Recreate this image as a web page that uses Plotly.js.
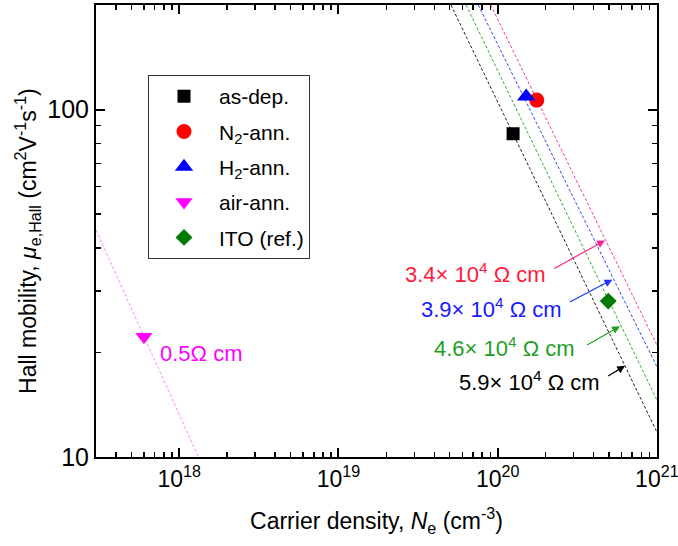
<!DOCTYPE html>
<html>
<head>
<meta charset="utf-8">
<script src="https://cdn.plot.ly/plotly-3.0.1.min.js"></script>
<style>html,body{margin:0;padding:0;background:#fff}</style>
</head>
<body>
<div id="chart" style="width:678px;height:546px"></div>
<script>
// Measured films: carrier density (cm^-3) and Hall mobility (cm^2 V^-1 s^-1)
const sampleNames    = ['as-dep.', 'N<sub>2</sub>-ann.', 'H<sub>2</sub>-ann.', 'air-ann.', 'ITO (ref.)'];
const sampleDensity  = [1.25e20, 1.76e20, 1.51e20, 6.0e17, 4.95e20];
const sampleMobility = [85.2, 106.5, 109, 22.2, 28.1];

// Axis tick values and labels
const xTickVals = [1e18, 1e19, 1e20, 1e21];
const xTickText = ['10<sup>18</sup>', '10<sup>19</sup>', '10<sup>20</sup>', '10<sup>21</sup>'];
const yTickVals = [10, 100];
const yTickText = ['10', '100'];

// Iso-resistivity guide lines: end points (density, mobility)
const rhoLabels   = ['3.4× 10<sup>4</sup> Ω cm', '3.9× 10<sup>4</sup> Ω cm',
                     '4.6× 10<sup>4</sup> Ω cm', '5.9× 10<sup>4</sup> Ω cm', '0.5Ω cm'];
const rhoDensity  = [[9.04e19, 1e21], [7.55e19, 1e21], [6.33e19, 1e21], [5.09e19, 1e21], [3e17, 1.32e18]];
const rhoMobility = [[200, 21.0], [200, 18.2], [200, 14.6], [200, 11.8], [45.0, 10]];

// Label anchors and arrow (tail -> head) positions, in density / mobility
const labelDensity  = [2.07e20, 2.61e20, 3.15e20, 4.52e20, 7.35e17];
const labelMobility = [33.9, 26.9, 20.7, 16.6, 19.9];
const arrowTailDensity  = [2.22e20, 2.78e20, 3.57e20, 4.84e20];
const arrowTailMobility = [34.7, 27.8, 20.9, 17.0];
const arrowHeadDensity  = [4.72e20, 5.25e20, 5.86e20, 6.31e20];
const arrowHeadMobility = [42.0, 32.4, 23.8, 18.3];

const markerSymbols = ['square', 'circle', 'triangle-up', 'triangle-down', 'diamond'];
const markerColors  = ['#000000', '#ff0000', '#0000ff', '#ff00ff', '#007a00'];
const markerSizes   = [13, 15, 16, 15, 13];
const lineColors    = ['#ff3399', '#3344ff', '#33aa33', '#222222', '#ff88ff'];
const arrowColors   = ['#ff2090', '#2233ff', '#22a022', '#000000'];
const labelColors   = ['#ff1a3c', '#1a1aff', '#1f9f1f', '#000000', '#ff00ff'];

const FONT = 'Liberation Sans, Arial, sans-serif';
const lg = Math.log10;

const traces = [];
rhoDensity.forEach((xs, i) => {
  traces.push({
    x: xs, y: rhoMobility[i], type: 'scatter', mode: 'lines',
    line: {color: lineColors[i], width: 1, dash: '3px,2px'},
    showlegend: false, hoverinfo: 'skip'
  });
});
sampleNames.forEach((name, i) => {
  traces.push({
    x: [sampleDensity[i]], y: [sampleMobility[i]], type: 'scatter', mode: 'markers',
    name: name, legendgroup: 'g' + i,
    marker: {symbol: markerSymbols[i], color: markerColors[i], size: markerSizes[i], line: {width: 0}}
  });
});

const annotations = [];
rhoLabels.forEach((t, i) => {
  annotations.push({
    x: lg(labelDensity[i]), y: lg(labelMobility[i]), xref: 'x', yref: 'y',
    text: t, showarrow: false, xanchor: i === 4 ? 'left' : 'right', yanchor: 'middle',
    font: {family: FONT, size: 22, color: labelColors[i]}
  });
});
arrowHeadDensity.forEach((hx, i) => {
  annotations.push({
    x: lg(hx), y: lg(arrowHeadMobility[i]), xref: 'x', yref: 'y',
    ax: lg(arrowTailDensity[i]), ay: lg(arrowTailMobility[i]), axref: 'x', ayref: 'y',
    text: '', showarrow: true, arrowhead: 2, arrowsize: 1.3, arrowwidth: 1.2,
    arrowcolor: arrowColors[i], standoff: 0, startstandoff: 0
  });
});
// Rotated y-axis title, placed a little below the plot centre
annotations.push({
  xref: 'paper', yref: 'paper', x: -0.123, y: 0.478, xanchor: 'center', yanchor: 'middle',
  textangle: -90, showarrow: false,
  text: 'Hall mobility, <i>μ</i><sub>e,Hall</sub> (cm<sup>2</sup>V<sup>-1</sup>s<sup>-1</sup>)',
  font: {family: FONT, size: 23, color: '#000'}
});

const axisCommon = {
  type: 'log', showgrid: false, zeroline: false,
  showline: true, linecolor: '#000', linewidth: 2, mirror: 'allticks',
  ticks: 'inside', ticklen: 9, tickwidth: 2, tickcolor: '#000',
  tickmode: 'array', ticklabeloverflow: 'allow', automargin: false,
  minor: {ticks: 'inside', ticklen: 5, tickwidth: 1.5, tickcolor: '#000', dtick: 'D1'}
};

const layout = {
  width: 678, height: 546,
  margin: {l: 96, r: 21, t: 5, b: 89},
  paper_bgcolor: '#fff', plot_bgcolor: '#fff',
  font: {family: FONT, color: '#000'},
  xaxis: Object.assign({}, axisCommon, {
    range: [lg(3e17), 21.0008],
    tickvals: xTickVals, ticktext: xTickText,
    tickfont: {family: FONT, size: 23, color: '#000'},
    title: {text: 'Carrier density, <i>N</i><sub>e</sub> (cm<sup>-3</sup>)',
            font: {family: FONT, size: 23, color: '#000'}, standoff: 22}
  }),
  yaxis: Object.assign({}, axisCommon, {
    range: [1, lg(200)],
    tickvals: yTickVals, ticktext: yTickText,
    tickfont: {family: FONT, size: 25, color: '#000'}
  }),
  legend: {
    x: 0.0927, y: 0.845, xanchor: 'left', yanchor: 'top',
    bgcolor: '#fff', bordercolor: '#333', borderwidth: 1,
    font: {family: FONT, size: 21, color: '#000'},
    traceorder: 'grouped', tracegroupgap: 5, itemwidth: 60
  },
  annotations: annotations,
  showlegend: true
};

Plotly.newPlot('chart', traces, layout, {displayModeBar: false, staticPlot: true});
</script>
</body>
</html>
